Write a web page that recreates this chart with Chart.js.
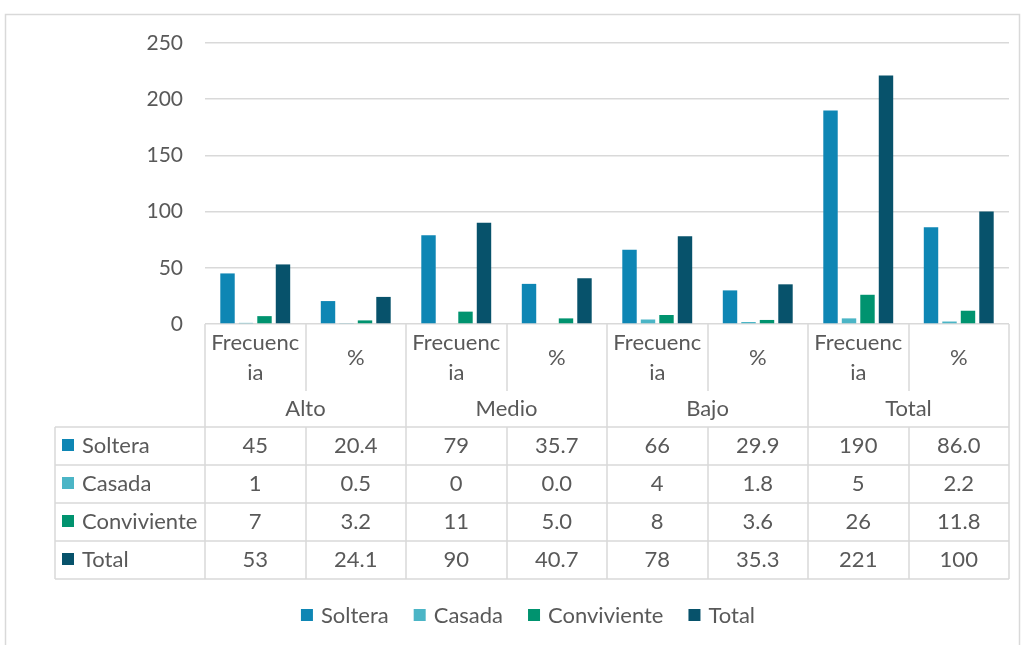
<!DOCTYPE html>
<html>
<head>
<meta charset="utf-8">
<script src="https://cdn.jsdelivr.net/npm/chart.js@4/dist/chart.umd.min.js"></script>
<style>
html,body{margin:0;padding:0;background:#fff;}
#wrap{width:1024px;height:645px;position:relative;}
</style>
</head>
<body>
<div id="wrap"><canvas id="c" width="1024" height="645"></canvas></div>
<script>
// ---- data ----
const subLabels = [['Frecuenc','ia'], ['%'], ['Frecuenc','ia'], ['%'], ['Frecuenc','ia'], ['%'], ['Frecuenc','ia'], ['%']];
const groupLabels = ['Alto', 'Medio', 'Bajo', 'Total'];
const seriesNames = ['Soltera', 'Casada', 'Conviviente', 'Total'];
const soltera     = [45, 20.4, 79, 35.7, 66, 29.9, 190, 86.0];
const casada      = [1, 0.5, 0, 0.0, 4, 1.8, 5, 2.2];
const conviviente = [7, 3.2, 11, 5.0, 8, 3.6, 26, 11.8];
const total       = [53, 24.1, 90, 40.7, 78, 35.3, 221, 100];
const yTicks = [0, 50, 100, 150, 200, 250];

const colors = ['#0E86B4', '#4BB5C6', '#00936F', '#07526B'];
const FONT = 'Lato, "Open Sans", sans-serif';
const TXT = '#595959';
const LINE = '#D9D9D9';
const FS = 22;

const seriesValues = [soltera, casada, conviviente, total];

function fmt(v, i) { return (i % 2 === 1) ? v.toFixed(1) : String(v); }
// Total % column in the source shows "100" without decimals
function cellText(s, i) {
  const v = seriesValues[s][i];
  if (s === 3 && i === 7) return String(v);
  return fmt(v, i);
}

const tablePlugin = {
  id: 'tablePlugin',
  beforeDraw(chart) {
    const ctx = chart.ctx;
    ctx.save();
    ctx.fillStyle = '#fff';
    ctx.fillRect(0, 0, chart.width, chart.height);
    ctx.strokeStyle = LINE;
    ctx.lineWidth = 1.5;
    ctx.strokeRect(5.5, 14.5, 1014, 640);
    ctx.restore();
  },
  afterDraw(chart) {
    const ctx = chart.ctx;
    const xs = chart.scales.x;
    const n = subLabels.length;
    const w = (xs.right - xs.left) / n;
    const b = [];
    for (let i = 0; i <= n; i++) b.push(xs.left + i * w);
    const y0 = chart.chartArea.bottom;
    const subBottom = y0 + 67;
    const tableTop = y0 + 103;
    const rowH = 38;
    const tableBottom = tableTop + rowH * 4;
    const tableLeft = 55;

    ctx.save();
    ctx.strokeStyle = LINE;
    ctx.lineWidth = 1.5;
    ctx.beginPath();
    for (let i = 0; i <= n; i++) {
      const x = Math.round(b[i]);
      if (i % 2 === 0) {
        ctx.moveTo(x, y0); ctx.lineTo(x, tableBottom);
      } else {
        ctx.moveTo(x, y0); ctx.lineTo(x, subBottom);
        ctx.moveTo(x, tableTop); ctx.lineTo(x, tableBottom);
      }
    }
    for (let r = 0; r <= 4; r++) {
      const y = tableTop + r * rowH;
      ctx.moveTo(tableLeft, y); ctx.lineTo(b[n], y);
    }
    ctx.moveTo(tableLeft, tableTop); ctx.lineTo(tableLeft, tableBottom);
    ctx.stroke();

    ctx.fillStyle = TXT;
    ctx.font = FS + 'px ' + FONT;
    ctx.textAlign = 'center';
    ctx.textBaseline = 'middle';
    // sub labels
    for (let i = 0; i < n; i++) {
      const cx = (b[i] + b[i + 1]) / 2;
      const lines = subLabels[i];
      if (lines.length === 2) {
        ctx.fillText(lines[0], cx, y0 + 19);
        ctx.fillText(lines[1], cx, y0 + 49);
      } else {
        ctx.fillText(lines[0], cx, y0 + 34);
      }
    }
    // group labels
    for (let g = 0; g < groupLabels.length; g++) {
      const cx = (b[2 * g] + b[2 * g + 2]) / 2;
      ctx.fillText(groupLabels[g], cx, y0 + 85);
    }
    // table rows
    for (let s = 0; s < 4; s++) {
      const cy = tableTop + s * rowH + rowH / 2;
      ctx.fillStyle = chart.data.datasets[s].backgroundColor;
      ctx.fillRect(62, cy - 7, 12, 12);
      ctx.fillStyle = TXT;
      ctx.textAlign = 'left';
      ctx.fillText(chart.data.datasets[s].label, 82, cy);
      ctx.textAlign = 'center';
      for (let i = 0; i < n; i++) {
        const cx = (b[i] + b[i + 1]) / 2;
        ctx.fillText(cellText(s, i), cx, cy);
      }
    }
    // legend
    const ly = 616;
    const gap = 25;
    const items = chart.data.datasets.map(d => ({ label: d.label, color: d.backgroundColor, w: 12 + 8 + ctx.measureText(d.label).width }));
    const totalW = items.reduce((a, it) => a + it.w, 0) + gap * (items.length - 1);
    let x = 528 - totalW / 2;
    ctx.textAlign = 'left';
    for (const it of items) {
      ctx.fillStyle = it.color;
      ctx.fillRect(x, ly - 7, 12, 12);
      ctx.fillStyle = TXT;
      ctx.fillText(it.label, x + 20, ly);
      x += it.w + gap;
    }
    ctx.restore();
  }
};

new Chart(document.getElementById('c'), {
  type: 'bar',
  data: {
    labels: subLabels,
    datasets: seriesNames.map((name, k) => ({
      label: name,
      data: seriesValues[k],
      backgroundColor: colors[k],
      borderWidth: 0,
      categoryPercentage: 0.736,
      barPercentage: 0.78
    }))
  },
  options: {
    responsive: false,
    animation: false,
    devicePixelRatio: 1,
    layout: { padding: { left: 0, right: 15, top: 43, bottom: 0 } },
    plugins: { legend: { display: false }, tooltip: { enabled: false } },
    scales: {
      x: {
        ticks: { display: false },
        grid: { display: false, drawTicks: false },
        border: { display: false },
        afterFit(scale) { scale.height = 321; }
      },
      y: {
        min: 0, max: 250,
        afterBuildTicks(scale) { scale.ticks = yTicks.map(v => ({ value: v })); },
        ticks: { color: TXT, font: { family: FONT, size: 21 }, padding: 22 },
        grid: { color: LINE, lineWidth: 1.5, drawTicks: false },
        border: { display: false },
        afterFit(scale) { scale.width = 205; }
      }
    }
  },
  plugins: [tablePlugin]
});
</script>
</body>
</html>
